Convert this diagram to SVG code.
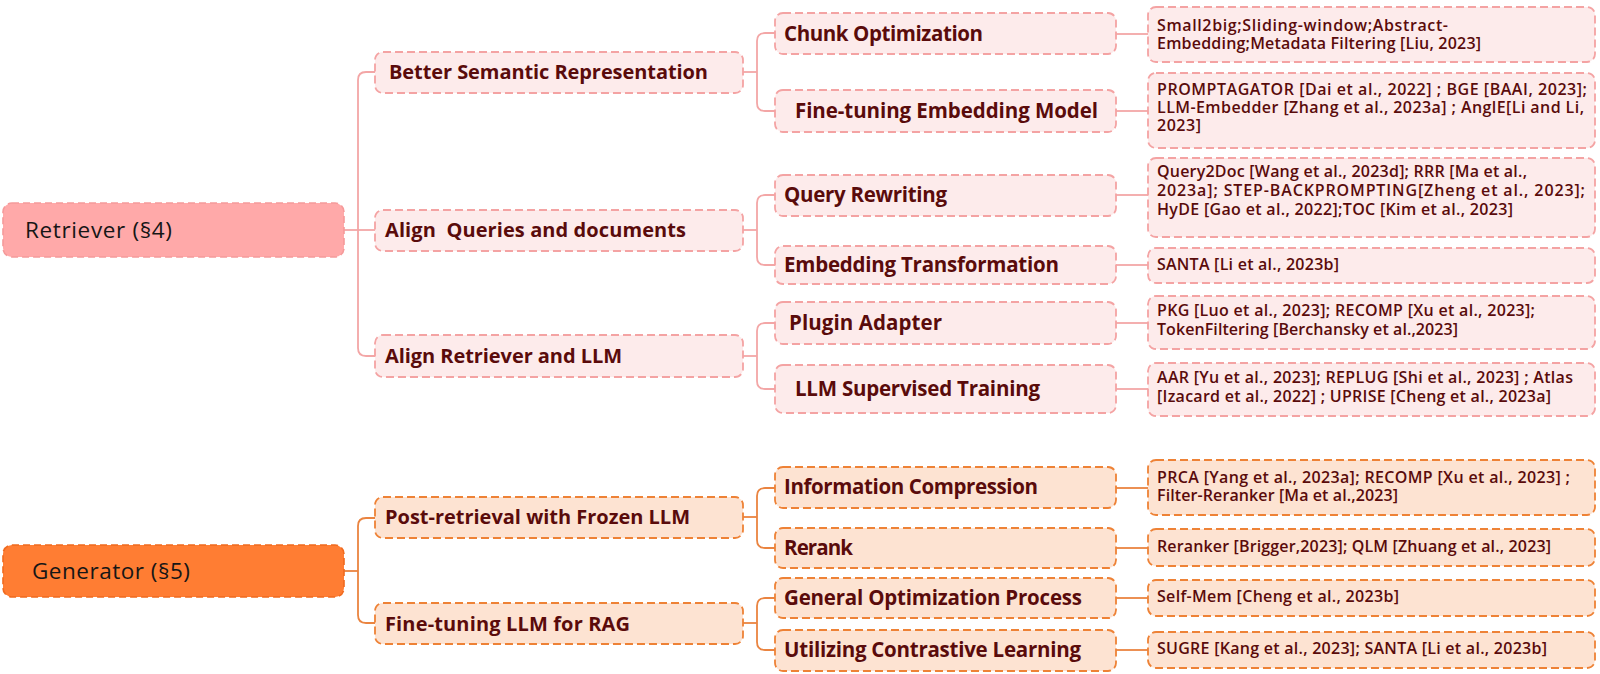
<svg xmlns="http://www.w3.org/2000/svg" width="1600" height="674" viewBox="0 0 1600 674">
<style>
.bg{fill:#ffffff}
.rootR{fill:#FFA9A9;stroke:#F59A9A;stroke-width:1.6;stroke-dasharray:7 4}
.rootG{fill:#FF7D33;stroke:#F06A1E;stroke-width:1.6;stroke-dasharray:7 4}
.p{fill:#FDEBEB;stroke:#F4A3A3;stroke-width:1.8;stroke-dasharray:8 4}
.o{fill:#FDE3D2;stroke:#EE8236;stroke-width:1.8;stroke-dasharray:8 4}
.cp{fill:none;stroke:#F3A6A6;stroke-width:1.8}
.co{fill:none;stroke:#EA8440;stroke-width:1.8}
.root{font-family:"Open Sans","Liberation Sans",sans-serif;font-size:22.5px;font-weight:500;fill:#161616}
.l1{font-family:"Open Sans","Liberation Sans",sans-serif;font-size:20px;font-weight:700;fill:#5A0B0B}
.l2{font-family:"Open Sans","Liberation Sans",sans-serif;font-size:20.5px;font-weight:700;fill:#5A0B0B}
.lf{font-family:"Open Sans","Liberation Sans",sans-serif;font-size:16px;font-weight:600;fill:#5A0B0B}
</style>
<rect class="bg" x="0" y="0" width="1600" height="674"/>
<g id="connectors">
  <path class="cp" d="M344,230 H375"/>
  <path class="cp" d="M375,72 H366 Q358,72 358,80 V348 Q358,356 366,356 H375"/>
  <path class="cp" d="M743,72 H757"/>
  <path class="cp" d="M775,33 H765 Q757,33 757,41 V103 Q757,111 765,111 H775"/>
  <path class="cp" d="M743,230 H757"/>
  <path class="cp" d="M775,195 H765 Q757,195 757,203 V257 Q757,265 765,265 H775"/>
  <path class="cp" d="M743,356 H757"/>
  <path class="cp" d="M775,323 H765 Q757,323 757,331 V381 Q757,389 765,389 H775"/>
  <path class="cp" d="M1116,34 H1148"/>
  <path class="cp" d="M1116,111 H1148"/>
  <path class="cp" d="M1116,195 H1148"/>
  <path class="cp" d="M1116,265 H1148"/>
  <path class="cp" d="M1116,323 H1148"/>
  <path class="cp" d="M1116,389 H1148"/>
  <path class="co" d="M344,571 H358"/>
  <path class="co" d="M375,518 H366 Q358,518 358,526 V615 Q358,623 366,623 H375"/>
  <path class="co" d="M743,517 H757"/>
  <path class="co" d="M775,488 H765 Q757,488 757,496 V540 Q757,548 765,548 H775"/>
  <path class="co" d="M743,623 H757"/>
  <path class="co" d="M775,598 H765 Q757,598 757,606 V642 Q757,650 765,650 H775"/>
  <path class="co" d="M1116,488 H1148"/>
  <path class="co" d="M1116,548 H1148"/>
  <path class="co" d="M1116,598 H1148"/>
  <path class="co" d="M1116,650 H1148"/>
</g>
<g id="retriever">
  <rect class="rootR" x="3" y="203" width="341" height="54" rx="9"/>
  <text class="root" x="25" y="238" textLength="147">Retriever (§4)</text>
</g>
<g id="better-semantic">
  <rect class="p" x="375" y="52" width="368" height="41" rx="8"/>
  <text class="l1" x="389" y="79" textLength="319">Better Semantic Representation</text>
</g>
<g id="align-queries">
  <rect class="p" x="375" y="210" width="368" height="41" rx="8"/>
  <text class="l1" x="385" y="237" textLength="301" xml:space="preserve">Align  Queries and documents</text>
</g>
<g id="align-retriever">
  <rect class="p" x="375" y="335" width="368" height="42" rx="8"/>
  <text class="l1" x="385" y="363" textLength="237">Align Retriever and LLM</text>
</g>
<g id="chunk">
  <rect class="p" x="775" y="13" width="341" height="41" rx="8"/>
  <text class="l2" x="784" y="41" textLength="199">Chunk Optimization</text>
</g>
<g id="finetune-emb">
  <rect class="p" x="775" y="90" width="341" height="42" rx="8"/>
  <text class="l2" x="795" y="118" textLength="303">Fine-tuning Embedding Model</text>
</g>
<g id="query-rewriting">
  <rect class="p" x="775" y="175" width="341" height="41" rx="8"/>
  <text class="l2" x="784" y="202" textLength="163">Query Rewriting</text>
</g>
<g id="embedding-transformation">
  <rect class="p" x="775" y="246" width="341" height="38" rx="8"/>
  <text class="l2" x="784" y="272" textLength="275">Embedding Transformation</text>
</g>
<g id="plugin-adapter">
  <rect class="p" x="775" y="302" width="341" height="42" rx="8"/>
  <text class="l2" x="789" y="330" textLength="153">Plugin Adapter</text>
</g>
<g id="llm-supervised">
  <rect class="p" x="775" y="365" width="341" height="48" rx="8"/>
  <text class="l2" x="795" y="396" textLength="245">LLM Supervised Training</text>
</g>
<g id="leaf-chunk">
  <rect class="p" x="1148" y="7" width="447" height="55" rx="8"/>
  <text class="lf" x="1157" y="31" textLength="291">Small2big;Sliding-window;Abstract-</text>
  <text class="lf" x="1157" y="49" textLength="324">Embedding;Metadata Filtering [Liu, 2023]</text>
</g>
<g id="leaf-finetune-emb">
  <rect class="p" x="1148" y="73" width="447" height="75" rx="8"/>
  <text class="lf" x="1157" y="95" textLength="430">PROMPTAGATOR [Dai et al., 2022] ; BGE [BAAI, 2023];</text>
  <text class="lf" x="1157" y="113" textLength="427">LLM-Embedder [Zhang et al., 2023a] ; AnglE[Li and Li,</text>
  <text class="lf" x="1157" y="131" textLength="44">2023]</text>
</g>
<g id="leaf-query-rewriting">
  <rect class="p" x="1148" y="158" width="447" height="79" rx="8"/>
  <text class="lf" x="1157" y="177" textLength="370">Query2Doc [Wang et al., 2023d]; RRR [Ma et al.,</text>
  <text class="lf" x="1157" y="196" textLength="428">2023a]; STEP-BACKPROMPTING[Zheng et al., 2023];</text>
  <text class="lf" x="1157" y="215" textLength="356">HyDE [Gao et al., 2022];TOC [Kim et al., 2023]</text>
</g>
<g id="leaf-embedding-transformation">
  <rect class="p" x="1148" y="248" width="447" height="35" rx="8"/>
  <text class="lf" x="1157" y="270" textLength="182">SANTA [Li et al., 2023b]</text>
</g>
<g id="leaf-plugin">
  <rect class="p" x="1148" y="296" width="447" height="53" rx="8"/>
  <text class="lf" x="1157" y="316" textLength="378">PKG [Luo et al., 2023]; RECOMP [Xu et al., 2023];</text>
  <text class="lf" x="1157" y="335" textLength="301">TokenFiltering [Berchansky et al.,2023]</text>
</g>
<g id="leaf-llm-supervised">
  <rect class="p" x="1148" y="363" width="447" height="53" rx="8"/>
  <text class="lf" x="1157" y="383" textLength="416">AAR [Yu et al., 2023]; REPLUG [Shi et al., 2023] ; Atlas</text>
  <text class="lf" x="1157" y="402" textLength="394">[Izacard et al., 2022] ; UPRISE [Cheng et al., 2023a]</text>
</g>
<g id="generator">
  <rect class="rootG" x="3" y="545" width="341" height="52" rx="9"/>
  <text class="root" x="32" y="579" textLength="158">Generator (§5)</text>
</g>
<g id="post-retrieval">
  <rect class="o" x="375" y="497" width="368" height="41" rx="8"/>
  <text class="l1" x="385" y="524" textLength="305">Post-retrieval with Frozen LLM</text>
</g>
<g id="finetune-llm">
  <rect class="o" x="375" y="603" width="368" height="41" rx="8"/>
  <text class="l1" x="385" y="631" textLength="245">Fine-tuning LLM for RAG</text>
</g>
<g id="info-compression">
  <rect class="o" x="775" y="467" width="341" height="41" rx="8"/>
  <text class="l2" x="784" y="494" textLength="254">Information Compression</text>
</g>
<g id="rerank">
  <rect class="o" x="775" y="528" width="341" height="40" rx="8"/>
  <text class="l2" x="784" y="555" textLength="69">Rerank</text>
</g>
<g id="general-opt">
  <rect class="o" x="775" y="578" width="341" height="40" rx="8"/>
  <text class="l2" x="784" y="605" textLength="298">General Optimization Process</text>
</g>
<g id="contrastive">
  <rect class="o" x="775" y="630" width="341" height="41" rx="8"/>
  <text class="l2" x="784" y="657" textLength="297">Utilizing Contrastive Learning</text>
</g>
<g id="leaf-info">
  <rect class="o" x="1148" y="460" width="447" height="55" rx="8"/>
  <text class="lf" x="1157" y="483" textLength="413">PRCA [Yang et al., 2023a]; RECOMP [Xu et al., 2023] ;</text>
  <text class="lf" x="1157" y="501" textLength="241">Filter-Reranker [Ma et al.,2023]</text>
</g>
<g id="leaf-rerank">
  <rect class="o" x="1148" y="529" width="447" height="37" rx="8"/>
  <text class="lf" x="1157" y="552" textLength="394">Reranker [Brigger,2023]; QLM [Zhuang et al., 2023]</text>
</g>
<g id="leaf-general">
  <rect class="o" x="1148" y="580" width="447" height="36" rx="8"/>
  <text class="lf" x="1157" y="602" textLength="242">Self-Mem [Cheng et al., 2023b]</text>
</g>
<g id="leaf-contrastive">
  <rect class="o" x="1148" y="632" width="447" height="36" rx="8"/>
  <text class="lf" x="1157" y="654" textLength="390">SUGRE [Kang et al., 2023]; SANTA [Li et al., 2023b]</text>
</g>
</svg>
